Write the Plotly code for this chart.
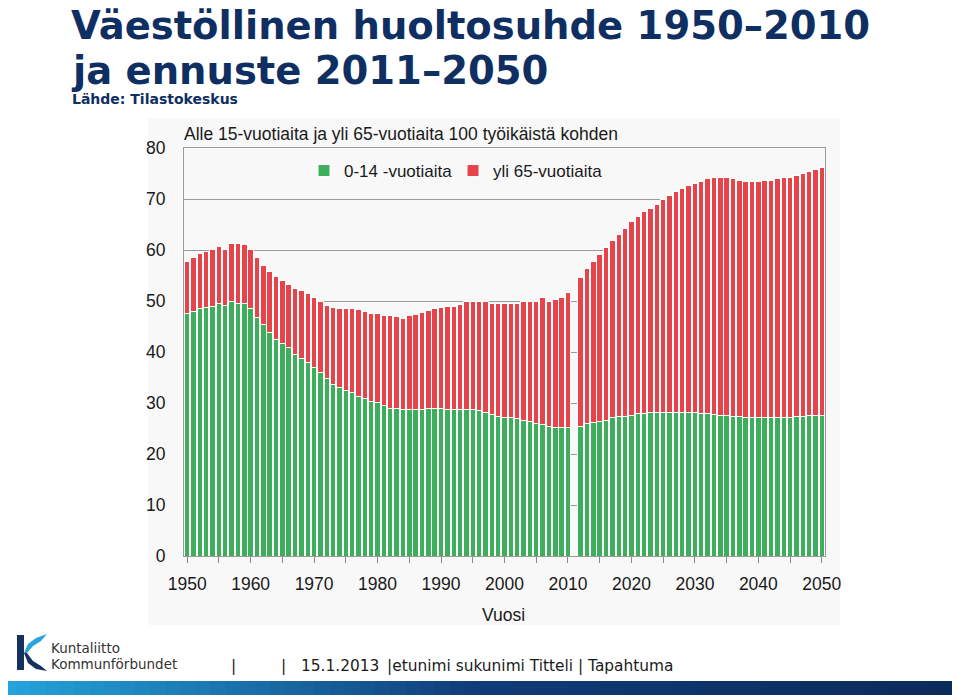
import plotly.graph_objects as go

# ---------------- data ----------------
years = list(range(1950, 2011)) + list(range(2012, 2051))

age_0_14 = [
    47.5, 48.0, 48.5, 48.7, 48.9, 49.6, 49.1, 49.9, 49.6, 49.6,
    48.5, 46.7, 45.4, 43.8, 42.5, 41.6, 40.8, 39.6, 38.8, 38.0,
    37.0, 35.9, 34.8, 33.7, 33.1, 32.5, 32.0, 31.3, 30.8, 30.3,
    30.1, 29.5, 29.0, 29.0, 28.8, 28.7, 28.7, 28.7, 29.0, 29.0,
    29.0, 28.7, 28.7, 28.7, 28.7, 28.7, 28.6, 28.2, 27.7, 27.4,
    27.2, 27.2, 26.9, 26.6, 26.3, 25.9, 25.7, 25.4, 25.2, 25.2, 25.2,
    25.4, 25.9, 26.1, 26.3, 26.5, 27.1, 27.3, 27.3, 27.6, 27.9,
    27.9, 28.1, 28.1, 28.1, 28.1, 28.1, 28.1, 28.1, 28.1, 27.9,
    27.9, 27.8, 27.6, 27.6, 27.4, 27.3, 27.2, 27.2, 27.2, 27.2,
    27.2, 27.2, 27.2, 27.2, 27.4, 27.4, 27.5, 27.6, 27.6,
]

age_65_plus = [
    10.3, 10.6, 10.9, 11.0, 11.2, 11.1, 11.0, 11.3, 11.6, 11.4,
    11.6, 11.9, 11.6, 11.9, 12.3, 12.4, 12.5, 12.9, 13.2, 13.4,
    13.7, 14.0, 14.3, 15.0, 15.4, 16.0, 16.5, 17.0, 17.2, 17.3,
    17.5, 17.7, 18.1, 17.9, 17.8, 18.5, 18.7, 19.0, 19.2, 19.5,
    19.7, 20.3, 20.3, 20.6, 21.2, 21.3, 21.4, 21.8, 21.8, 22.1,
    22.3, 22.3, 22.6, 23.3, 23.7, 24.0, 24.9, 24.6, 25.1, 25.4, 26.5,
    29.3, 30.4, 31.7, 32.8, 34.0, 34.7, 35.8, 36.9, 37.9, 38.7,
    39.6, 40.1, 40.9, 41.8, 42.5, 43.3, 43.9, 44.6, 44.9, 45.6,
    46.1, 46.5, 46.7, 46.7, 46.6, 46.3, 46.3, 46.3, 46.3, 46.5,
    46.5, 46.8, 47.1, 47.1, 47.2, 47.6, 47.9, 48.2, 48.5,
]

x_tickvals = list(range(1950, 2051, 5))
x_ticktext = [str(v) if v % 10 == 0 else "" for v in x_tickvals]
y_tickvals = list(range(0, 81, 10))

series_names = ["0-14 -vuotiaita", "yli 65-vuotiaita"]

# ---------------- layout helpers ----------------
# page body has an 8px margin: figure is placed at (8, 8) in the window
OFF = 8
SCREEN_W, SCREEN_H = 960, 695
W_FIG, H_FIG = SCREEN_W - OFF, SCREEN_H - OFF
# plot area in screen pixels
L, R, T, B = 184, 825, 148, 556
PW, PH = R - L, B - T


def px(x):
    return (x - L) / PW


def py(y):
    return (B - y) / PH


GREEN = "#3cae5c"
RED = "#e6434b"
NAVY = "#0f2f62"
INNER_FONT = "Liberation Sans, Arial, sans-serif"

fig = go.Figure()
fig.add_trace(go.Bar(
    x=years, y=age_0_14, name=series_names[0],
    marker=dict(color=GREEN, line=dict(color="white", width=1)),
))
fig.add_trace(go.Bar(
    x=years, y=age_65_plus, name=series_names[1],
    marker=dict(color=RED, line=dict(color="white", width=1)),
))

shapes = []
# light grey chart-image background
shapes.append(dict(type="rect", xref="paper", yref="paper", layer="below",
                   x0=px(148), x1=px(840), y0=py(625), y1=py(118),
                   fillcolor="#f8f8f8", line=dict(width=0)))

# footer gradient band
n = 64
c0 = (0x25, 0xa6, 0xdd)
c1 = (0x10, 0x3c, 0x78)
c2 = (0x0b, 0x2b, 0x5a)
for i in range(n):
    t = (i + 0.5) / n
    if t < 0.5:
        u = t / 0.5
        c = tuple(int(c0[k] + (c1[k] - c0[k]) * u) for k in range(3))
    else:
        u = (t - 0.5) / 0.5
        c = tuple(int(c1[k] + (c2[k] - c1[k]) * u) for k in range(3))
    x0 = i * SCREEN_W / n
    x1 = (i + 1) * SCREEN_W / n + 0.5
    shapes.append(dict(type="rect", xref="paper", yref="paper",
                       x0=px(x0), x1=px(x1), y0=py(696), y1=py(681),
                       fillcolor="rgb(%d,%d,%d)" % c, line=dict(width=0)))

# Kuntaliitto logo (approximate K mark)
shapes.append(dict(type="rect", xref="paper", yref="paper",
                   x0=px(17), x1=px(24), y0=py(670), y1=py(635),
                   fillcolor="#14315f", line=dict(width=0)))


def path(points):
    return "M " + " L ".join("%f,%f" % (px(a), py(b)) for a, b in points) + " Z"


shapes.append(dict(type="path", xref="paper", yref="paper",
                   path=path([(24, 653), (28, 644), (36, 638), (47, 634),
                              (41, 641), (33, 646), (27, 653)]),
                   fillcolor="#2aa4dc", line=dict(width=0)))
shapes.append(dict(type="path", xref="paper", yref="paper",
                   path=path([(24, 653), (27, 653), (33, 661), (41, 666),
                              (47, 671), (36, 669), (28, 663)]),
                   fillcolor="#14315f", line=dict(width=0)))

annotations = []


def ann(text, x, y, size, color="#222222", family=INNER_FONT, xanchor="left", bold=False):
    if bold:
        text = "<b>" + text + "</b>"
    annotations.append(dict(text=text, x=px(x), y=py(y), xref="paper", yref="paper",
                            xanchor=xanchor, yanchor="middle", showarrow=False,
                            font=dict(size=size, color=color, family=family)))


TITLE_FONT = "DejaVu Sans, Verdana, sans-serif"
ann("Väestöllinen huoltosuhde 1950–2010", 69, 26, 38.5, NAVY, TITLE_FONT, bold=True)
ann("ja ennuste 2011–2050", 69, 70, 38.5, NAVY, TITLE_FONT, bold=True)
ann("Lähde: Tilastokeskus", 70, 99, 14, NAVY, TITLE_FONT, bold=True)

ann("Alle 15-vuotiaita ja yli 65-vuotiaita 100 työikäistä kohden", 182, 134, 17.5, "#1a1a1a")
ann("Vuosi", 503, 615, 17.5, "#1a1a1a", xanchor="center")

FOOT_FONT = "DejaVu Sans, Verdana, sans-serif"
ann("Kuntaliitto", 49, 648, 13.5, "#333333", FOOT_FONT)
ann("Kommunförbundet", 49, 664, 13.5, "#333333", FOOT_FONT)
ann("|", 233, 666, 15.4, "#1a1a1a", FOOT_FONT, xanchor="center")
ann("|", 283, 666, 15.4, "#1a1a1a", FOOT_FONT, xanchor="center")
ann("15.1.2013", 299, 666, 15.4, "#1a1a1a", FOOT_FONT)
ann("|etunimi sukunimi Titteli | Tapahtuma", 385, 666, 15.4, "#1a1a1a", FOOT_FONT)

fig.update_layout(
    width=W_FIG, height=H_FIG, autosize=False,
    margin=dict(l=L - OFF, r=SCREEN_W - R, t=T - OFF, b=SCREEN_H - B, pad=0),
    paper_bgcolor="white", plot_bgcolor="white",
    barmode="stack", bargap=0.14,
    showlegend=True,
    legend=dict(orientation="h", x=px(304), y=py(171), xanchor="left", yanchor="middle",
                bgcolor="rgba(0,0,0,0)", font=dict(size=17, family=INNER_FONT, color="#1a1a1a"),
                itemwidth=30, traceorder="normal", entrywidth=104, entrywidthmode="pixels"),
    shapes=shapes, annotations=annotations,
    font=dict(family=INNER_FONT),
)
fig.update_xaxes(
    range=[1949.5, 2050.5], tickvals=x_tickvals, ticktext=x_ticktext,
    ticks="outside", ticklen=6, tickcolor="#888888", tickwidth=1,
    showline=True, linecolor="#999999", linewidth=1, mirror=True,
    showgrid=False, zeroline=False,
    tickfont=dict(size=17.5, color="#1a1a1a", family=INNER_FONT),
    ticklabelstandoff=6,
)
fig.update_yaxes(
    range=[0, 80], tickvals=y_tickvals,
    showline=True, linecolor="#999999", linewidth=1, mirror=True,
    showgrid=True, gridcolor="#9a9a9a", gridwidth=1, zeroline=False,
    tickfont=dict(size=17.5, color="#1a1a1a", family=INNER_FONT),
    ticks="", ticklabelstandoff=14,
)

fig.write_html("out.html")
